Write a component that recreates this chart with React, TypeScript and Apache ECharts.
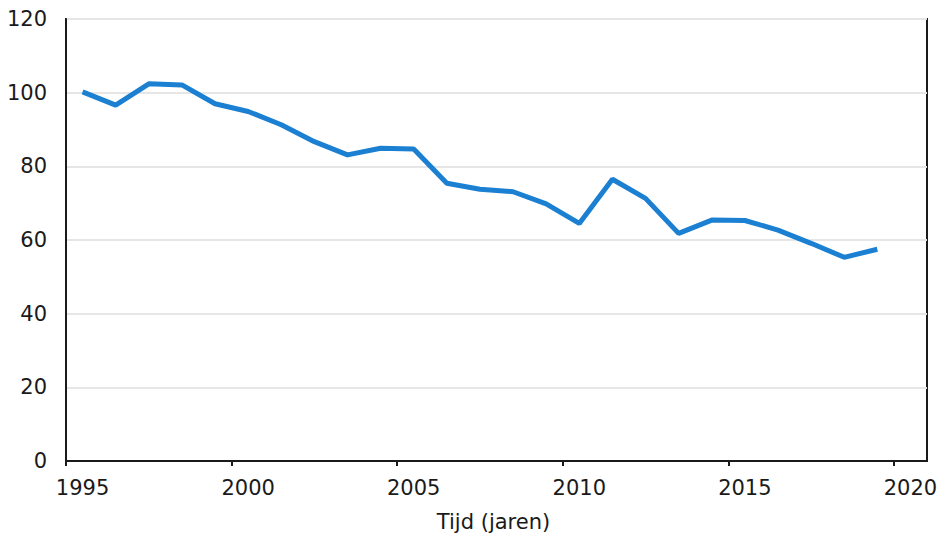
import React, { useEffect, useRef } from "react";
import * as echarts from "echarts";

const years = [
  1995, 1996, 1997, 1998, 1999, 2000, 2001, 2002, 2003, 2004, 2005, 2006, 2007,
  2008, 2009, 2010, 2011, 2012, 2013, 2014, 2015, 2016, 2017, 2018, 2019,
];
const values = [
  100.2, 96.6, 102.4, 102.1, 97.0, 94.9, 91.3, 86.7, 83.1, 84.9, 84.7, 75.4, 73.8,
  73.1, 69.8, 64.5, 76.5, 71.3, 61.8, 65.4, 65.3, 62.7, 59.1, 55.3, 57.5,
];
const xTickLabels = [1995, 2000, 2005, 2010, 2015, 2020];
const xAxisName = "Tijd (jaren)";

export default function App() {
  const ref = useRef<HTMLDivElement>(null);
  useEffect(() => {
    if (!ref.current) return;
    const chart = echarts.init(ref.current, null, { renderer: "svg" });
    const font = "'DejaVu Sans', Verdana, sans-serif";
    chart.setOption({
      animation: false,
      backgroundColor: "#ffffff",
      grid: {
        left: 66,
        right: 11,
        top: 19,
        bottom: 72,
        containLabel: false,
        outerBoundsMode: "none",
        show: true,
        borderColor: "#1a1a1a",
        borderWidth: 2,
        backgroundColor: "transparent",
      },
      xAxis: {
        type: "value",
        min: 1995,
        max: 2021,
        interval: 5,
        name: xAxisName,
        nameLocation: "middle",
        nameGap: 50,
        nameTextStyle: { fontFamily: font, fontSize: 21, color: "#1a1a1a", padding: [0, 6, 0, 0] },
        axisLine: { show: true, lineStyle: { color: "#1a1a1a", width: 2 } },
        axisTick: {
          show: true,
          length: 5,
          customValues: xTickLabels,
          lineStyle: { color: "#1a1a1a", width: 2 },
        },
        axisLabel: {
          customValues: xTickLabels.map((y) => y + 0.5),
          margin: 16,
          fontFamily: font,
          fontSize: 21,
          color: "#1a1a1a",
          formatter: (v: number) => String(Math.floor(v)),
        },
        splitLine: { show: false },
      },
      yAxis: {
        type: "value",
        min: 0,
        max: 120,
        interval: 20,
        axisLine: { show: true, lineStyle: { color: "#1a1a1a", width: 2 } },
        axisTick: { show: false },
        axisLabel: {
          margin: 19,
          fontFamily: font,
          fontSize: 21,
          color: "#1a1a1a",
        },
        splitLine: { show: true, lineStyle: { color: "#e6e6e6", width: 2 } },
      },
      series: [
        {
          type: "line",
          data: years.map((y, i) => [y + 0.5, values[i]]),
          symbol: "none",
          lineStyle: { color: "#1b7fd2", width: 5 },
          z: 3,
        },
      ],
    });
    return () => chart.dispose();
  }, []);
  return (
    <div
      ref={ref}
      style={{ position: "fixed", left: 0, top: 0, width: 938, height: 533 }}
    />
  );
}
